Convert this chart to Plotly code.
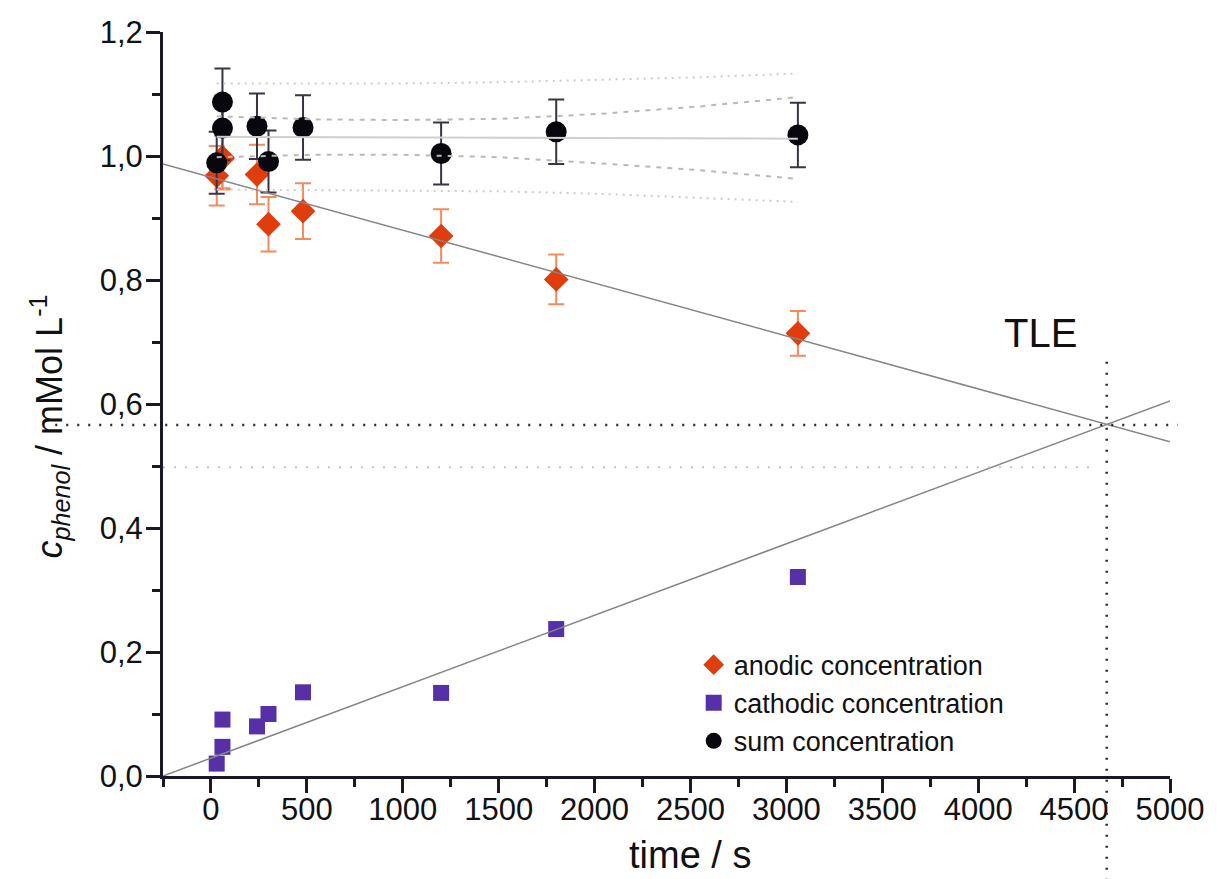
import plotly.graph_objects as go

# ---------------- data ----------------
anodic_t = [30, 60, 60, 240, 300, 480, 1200, 1800, 3060]
anodic_c = [0.968, 0.998, 0.996, 0.970, 0.890, 0.911, 0.871, 0.801, 0.714]
anodic_err = [0.048, 0.050, 0.050, 0.048, 0.044, 0.045, 0.043, 0.040, 0.036]

cathodic_t = [30, 60, 60, 240, 300, 480, 1200, 1800, 3060]
cathodic_c = [0.020, 0.047, 0.091, 0.080, 0.100, 0.135, 0.134, 0.237, 0.321]

sum_t = [30, 60, 60, 240, 300, 480, 1200, 1800, 3060]
sum_c = [0.989, 1.045, 1.087, 1.048, 0.991, 1.046, 1.004, 1.039, 1.034]
sum_err = [0.050, 0.052, 0.054, 0.053, 0.050, 0.052, 0.050, 0.052, 0.052]

# fitted lines
anodic_fit_t = [-250, 5000]
anodic_fit_c = [0.987, 0.539]
cathodic_fit_t = [-250, 5000]
cathodic_fit_c = [0.000, 0.605]

sum_fit_t = [30, 3060]
sum_fit_c = [1.031, 1.028]
band_t = [30, 550, 990, 1510, 2030, 2550, 3060]
conf_upper = [1.064, 1.059, 1.058, 1.060, 1.068, 1.080, 1.095]
conf_lower = [0.998, 1.002, 1.002, 0.998, 0.988, 0.977, 0.963]
pred_upper = [1.117, 1.117, 1.117, 1.119, 1.123, 1.127, 1.133]
pred_lower = [0.946, 0.945, 0.944, 0.943, 0.939, 0.933, 0.926]

ref_line_t = [-250, 4600]
ref_line_c = [0.498, 0.498]

TLE_t = 4670
TLE_c = 0.566

x_ticks = list(range(0, 5001, 500))
y_ticks = [0.0, 0.2, 0.4, 0.6, 0.8, 1.0, 1.2]
y_ticktext = ["0,0", "0,2", "0,4", "0,6", "0,8", "1,0", "1,2"]

X_RANGE = [-250, 5000]
Y_RANGE = [0, 1.2]

FONT = "Liberation Sans, Arial, sans-serif"
ORANGE = "#e03c0c"
ORANGE_ERR = "#f58a5c"
PURPLE = "#5530a6"
BLACK = "#08070d"
BLACK_ERR = "#3b3344"
AXIS = "#1b1726"


def xpaper(t):
    return (t - X_RANGE[0]) / (X_RANGE[1] - X_RANGE[0])


def ypaper(c):
    return (c - Y_RANGE[0]) / (Y_RANGE[1] - Y_RANGE[0])


fig = go.Figure()

# data traces
fig.add_trace(go.Scatter(
    x=anodic_t, y=anodic_c, mode="markers", name="anodic concentration",
    marker=dict(symbol="diamond", size=19, color=ORANGE, line=dict(width=0)),
    error_y=dict(type="data", array=anodic_err, visible=True, color=ORANGE_ERR,
                 thickness=2, width=8),
))
fig.add_trace(go.Scatter(
    x=cathodic_t, y=cathodic_c, mode="markers", name="cathodic concentration",
    marker=dict(symbol="square", size=16, color=PURPLE, line=dict(width=0)),
))
fig.add_trace(go.Scatter(
    x=sum_t, y=sum_c, mode="markers", name="sum concentration",
    marker=dict(symbol="circle", size=21, color=BLACK, line=dict(width=0)),
    error_y=dict(type="data", array=sum_err, visible=True, color=BLACK_ERR,
                 thickness=2, width=8),
))

# fit lines (drawn over the markers)
line_traces = [
    (anodic_fit_t, anodic_fit_c, dict(color="#858585", width=1.5)),
    (cathodic_fit_t, cathodic_fit_c, dict(color="#858585", width=1.5)),
    (sum_fit_t, sum_fit_c, dict(color="#cfcfcf", width=2)),
    (band_t, conf_upper, dict(color="#b9b9b9", width=2, dash="5px,6px")),
    (band_t, conf_lower, dict(color="#b9b9b9", width=2, dash="5px,6px")),
    (band_t, pred_upper, dict(color="#cccccc", width=2, dash="2px,5px")),
    (band_t, pred_lower, dict(color="#cccccc", width=2, dash="2px,5px")),
    (ref_line_t, ref_line_c, dict(color="#c4c4c4", width=2, dash="2px,9px")),
]
for xs, ys, ln in line_traces:
    fig.add_trace(go.Scatter(x=xs, y=ys, mode="lines", line=ln,
                             showlegend=False, hoverinfo="skip"))

# TLE crosshair (extends beyond plot area as in the reference)
fig.add_shape(type="line", xref="x", yref="paper",
              x0=TLE_t, x1=TLE_t, y0=ypaper(0.668), y1=-0.15,
              line=dict(color="#2a2636", width=2.5, dash="2px,9px"))
fig.add_shape(type="line", xref="paper", yref="y",
              x0=-0.107, x1=xpaper(5040), y0=TLE_c, y1=TLE_c,
              line=dict(color="#2a2636", width=2.5, dash="2px,9px"))

fig.add_annotation(x=4324, y=0.714, xref="x", yref="y", text="TLE",
                   showarrow=False, font=dict(size=40, color="#111", family=FONT))

# axis titles as annotations for precise placement
fig.add_annotation(x=xpaper(2500), y=-0.106, xref="paper", yref="paper",
                   xanchor="center", yanchor="middle",
                   text="time / s", showarrow=False,
                   font=dict(size=38, color="#111", family=FONT))
fig.add_annotation(x=-0.113, y=0.47, xref="paper", yref="paper",
                   xanchor="center", yanchor="middle",
                   text="<i>c</i><sub><i>phenol</i></sub> / mMol L<sup>-1</sup>",
                   textangle=-90, showarrow=False,
                   font=dict(size=36, color="#111", family=FONT))

fig.update_layout(
    width=1217, height=879,
    margin=dict(l=163, r=47, t=32, b=103),
    paper_bgcolor="white", plot_bgcolor="white",
    font=dict(family=FONT, color="#111", size=30),
    showlegend=True,
    legend=dict(x=0.527, y=0.182, xanchor="left", yanchor="top",
                bgcolor="rgba(0,0,0,0)", font=dict(size=27, family=FONT, color="#111"),
                tracegroupgap=0, itemwidth=30),
    xaxis=dict(range=X_RANGE, showgrid=False, zeroline=False,
               showline=True, linewidth=3, linecolor=AXIS,
               tickmode="array", tickvals=x_ticks,
               ticks="outside", ticklen=14, tickwidth=2.5, tickcolor=AXIS,
               ticklabelstandoff=-10,
               tickfont=dict(size=31, family=FONT, color="#111"),
               minor=dict(dtick=250, tick0=-250, ticks="outside", ticklen=8,
                          tickwidth=2.5, tickcolor=AXIS)),
    yaxis=dict(range=Y_RANGE, showgrid=False, zeroline=False,
               showline=True, linewidth=3, linecolor=AXIS,
               tickmode="array", tickvals=y_ticks, ticktext=y_ticktext,
               ticks="outside", ticklen=14, tickwidth=2.5, tickcolor=AXIS,
               ticklabelstandoff=-3,
               tickfont=dict(size=31, family=FONT, color="#111"),
               minor=dict(dtick=0.1, tick0=0, ticks="outside", ticklen=8,
                          tickwidth=2.5, tickcolor=AXIS)),
)

fig.write_html("out.html")
